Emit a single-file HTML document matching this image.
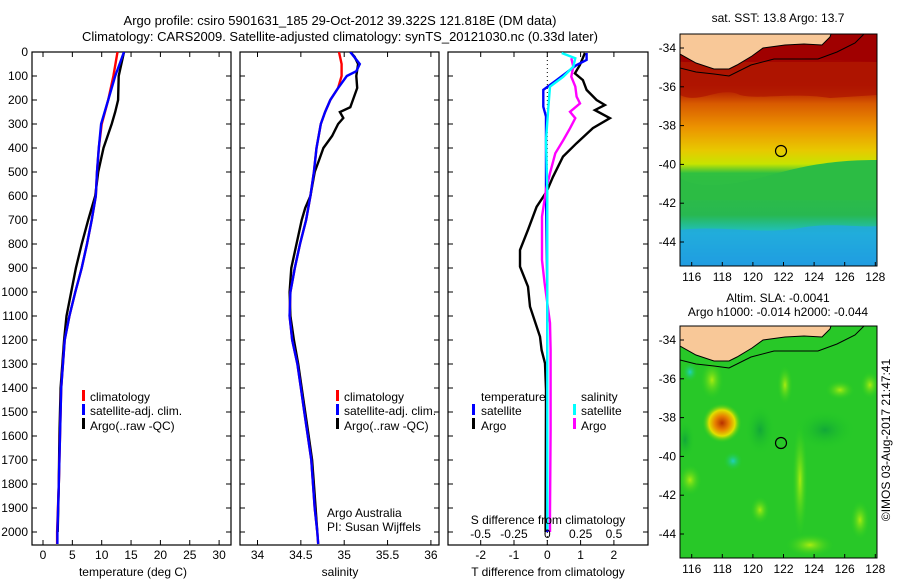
<!DOCTYPE html>
<html><head><meta charset="utf-8"><style>
html,body{margin:0;padding:0;background:#fff;}
svg{display:block;font-family:"Liberation Sans",Arial,sans-serif;}
text{font-size:12px;fill:#000;}
</style></head><body>
<svg id="fig" width="900" height="580" viewBox="0 0 900 580">
<defs>
<linearGradient id="sstGrad" x1="0" y1="0" x2="0" y2="1">
<stop offset="0" stop-color="#a00000"/><stop offset="0.22" stop-color="#a80800"/>
<stop offset="0.30" stop-color="#d85a00"/><stop offset="0.40" stop-color="#ec9200"/>
<stop offset="0.50" stop-color="#e8c800"/><stop offset="0.56" stop-color="#c8e400"/>
<stop offset="0.60" stop-color="#30c040"/><stop offset="0.78" stop-color="#28b850"/>
<stop offset="0.86" stop-color="#20c0c8"/><stop offset="1" stop-color="#1a70e8"/>
</linearGradient>
<radialGradient id="warmBlob"><stop offset="0" stop-color="#b83000"/><stop offset="0.35" stop-color="#e88000"/><stop offset="0.65" stop-color="#e0e000"/><stop offset="1" stop-color="#22cc22" stop-opacity="0"/></radialGradient>
<radialGradient id="cyanBlob"><stop offset="0" stop-color="#20d0c0"/><stop offset="1" stop-color="#22cc22" stop-opacity="0"/></radialGradient>
<radialGradient id="lightBlob"><stop offset="0" stop-color="#a8ec10"/><stop offset="1" stop-color="#22cc22" stop-opacity="0"/></radialGradient>
<radialGradient id="darkBlob"><stop offset="0" stop-color="#12a838"/><stop offset="1" stop-color="#22cc22" stop-opacity="0"/></radialGradient>
<clipPath id="clip1"><rect x="32" y="52" width="199" height="493"/></clipPath>
<clipPath id="clip2"><rect x="240" y="52" width="199" height="493"/></clipPath>
<clipPath id="clip3"><rect x="448" y="52" width="200" height="493"/></clipPath>
<clipPath id="clipTop"><rect x="680" y="34" width="197" height="232"/></clipPath>
<clipPath id="clipBot"><rect x="680" y="326" width="197" height="232"/></clipPath>
</defs>

<text x="340" y="25" text-anchor="middle" style="font-size:13px">Argo profile: csiro 5901631_185 29-Oct-2012 39.322S 121.818E (DM data)</text>
<text x="340" y="41" text-anchor="middle" style="font-size:13px">Climatology: CARS2009. Satellite-adjusted climatology: synTS_20121030.nc (0.33d later)</text>

<g id="p1"></g>
<g id="p2"></g>
<g id="p3"></g>

<g>
<rect x="82" y="390" width="3" height="11" fill="#f00"/><text x="90" y="401">climatology</text>
<rect x="82" y="404" width="3" height="11" fill="#00f"/><text x="90" y="415">satellite-adj. clim.</text>
<rect x="82" y="418" width="3" height="11" fill="#000"/><text x="90" y="430">Argo(..raw -QC)</text>
</g>
<g>
<rect x="336" y="390" width="3" height="11" fill="#f00"/><text x="344" y="401">climatology</text>
<rect x="336" y="404" width="3" height="11" fill="#00f"/><text x="344" y="415">satellite-adj. clim.</text>
<rect x="336" y="418" width="3" height="11" fill="#000"/><text x="344" y="430">Argo(..raw -QC)</text>
</g>
<text x="327" y="517">Argo Australia</text>
<text x="327" y="531">PI: Susan Wijffels</text>
<g>
<text x="481" y="401">temperature</text>
<rect x="472" y="404" width="3" height="11" fill="#00f"/><text x="481" y="415">satellite</text>
<rect x="472" y="418" width="3" height="11" fill="#000"/><text x="481" y="430">Argo</text>
<text x="581" y="401">salinity</text>
<rect x="573" y="404" width="3" height="11" fill="#0ff"/><text x="581" y="415">satellite</text>
<rect x="573" y="418" width="3" height="11" fill="#f0f"/><text x="581" y="430">Argo</text>
</g>

<text x="778" y="22" text-anchor="middle">sat. SST: 13.8 Argo: 13.7</text>
<g clip-path="url(#clipTop)">
<rect x="680" y="34" width="197" height="232" fill="url(#sstGrad)"/>
<path d="M680,60 L700,70 L730,72 L760,60 L800,58 L877,62 L877,34 L680,34Z" fill="#a00000"/>
<path d="M680,95 C700,105 720,85 740,95 C760,100 790,92 830,98 L877,95 L877,62 L680,62Z" fill="#b01800" opacity="0.8"/>
<path d="M680,178 C700,190 730,185 760,178 C790,170 820,160 877,160 L877,200 L680,200Z" fill="#2cbc44"/>
<path d="M680,230 C720,225 760,235 800,228 C830,222 860,228 877,226 L877,266 L680,266Z" fill="#22a8e0" opacity="0.8"/>
<g id="coastTop">
<path d="M680,34 L680,54 L696,63 L714,69 L729,69 L737,65 L752,56 L763,48 L785,45 L804,44 L822,45 L830,37 L831,34Z" fill="#f8c898" stroke="#000" stroke-width="1"/>
<polyline points="680,68 696,72 714,74 729,76 751,65 774,59 818,59 837,52 855,43 864,34" fill="none" stroke="#000" stroke-width="1"/>
</g>
<circle cx="781" cy="151" r="5.5" fill="none" stroke="#000" stroke-width="1.2"/>
</g>
<rect x="680" y="34" width="197" height="232" fill="none" stroke="#000"/>

<text x="778" y="302" text-anchor="middle">Altim. SLA: -0.0041</text>
<text x="778" y="316" text-anchor="middle">Argo h1000: -0.014 h2000: -0.044</text>
<g clip-path="url(#clipBot)">
<rect x="680" y="326" width="197" height="232" fill="#28c828"/>
<ellipse cx="712" cy="380" rx="12" ry="20" fill="url(#lightBlob)"/>
<ellipse cx="785" cy="385" rx="8" ry="20" fill="url(#lightBlob)"/>
<ellipse cx="840" cy="390" rx="15" ry="10" fill="url(#lightBlob)"/>
<ellipse cx="870" cy="385" rx="10" ry="14" fill="url(#lightBlob)"/>
<ellipse cx="800" cy="480" rx="8" ry="60" fill="url(#lightBlob)"/>
<ellipse cx="690" cy="480" rx="12" ry="16" fill="url(#lightBlob)"/>
<ellipse cx="760" cy="510" rx="10" ry="14" fill="url(#lightBlob)"/>
<ellipse cx="810" cy="545" rx="25" ry="12" fill="url(#lightBlob)"/>
<ellipse cx="860" cy="520" rx="10" ry="20" fill="url(#lightBlob)"/>
<ellipse cx="825" cy="430" rx="30" ry="20" fill="url(#darkBlob)"/>
<ellipse cx="760" cy="430" rx="15" ry="25" fill="url(#darkBlob)"/>
<ellipse cx="685" cy="440" rx="10" ry="20" fill="url(#darkBlob)"/>
<ellipse cx="690" cy="372" rx="8" ry="10" fill="url(#cyanBlob)"/>
<ellipse cx="733" cy="461" rx="10" ry="10" fill="url(#cyanBlob)"/>
<ellipse cx="722" cy="423" rx="20" ry="20" fill="url(#warmBlob)"/>
<use href="#coastTop" transform="translate(0,292)"/>
<circle cx="781" cy="443" r="5.5" fill="none" stroke="#000" stroke-width="1.2"/>
</g>
<rect x="680" y="326" width="197" height="232" fill="none" stroke="#000"/>
<g id="mapAxes"></g>
<text transform="translate(890,440) rotate(-90)" text-anchor="middle">©IMOS 03-Aug-2017 21:47:41</text>

<script>
const climDepth=[0,100,200,300,400,500,600,700,800,900,1000,1100,1200,1400,1600,1800,2000,2050];
const climT=[12.7,12.0,11.1,10.0,9.5,9.2,9.0,8.3,7.5,6.6,5.5,4.5,3.7,3.1,2.9,2.7,2.4,2.4];
const satT=[13.8,12.3,11.1,9.9,9.5,9.2,9.0,8.3,7.5,6.6,5.5,4.5,3.7,3.1,2.9,2.7,2.45,2.45];
const argoDepthT=[0,100,200,250,300,400,500,600,700,800,900,1000,1100,1200,1400,1600,1800,2000];
const argoT=[13.8,12.9,12.8,12.3,11.7,10.3,9.4,8.9,7.7,6.6,5.6,4.8,4.0,3.6,3.0,2.8,2.7,2.5];

const argoDepthS=[0,20,50,100,150,200,230,250,275,300,350,400,450,500,600,650,700,800,900,1000,1100,1200,1300,1400,1500,1600,1700,1800,1900,2000];
const argoS=[35.07,35.12,35.16,35.14,35.15,35.10,35.07,34.95,34.99,34.93,34.86,34.76,34.71,34.66,34.61,34.55,34.51,34.45,34.39,34.37,34.38,34.42,34.47,34.51,34.55,34.59,34.63,34.65,34.67,34.69];
const climDepthS=[0,50,100,150,200,250,300,400,500,600,700,800,900,1000,1100,1200,1300,1400,1500,1600,1700,1800,1900,2000,2050];
const climS=[34.94,34.97,34.97,34.93,34.84,34.78,34.73,34.68,34.65,34.61,34.56,34.49,34.43,34.38,34.37,34.40,34.46,34.50,34.54,34.58,34.62,34.64,34.66,34.69,34.70];
const satDepthS=[0,50,80,100,150,200,250,300,400,500,600,700,800,900,1000,1100,1200,1300,1400,1500,1600,1700,1800,1900,2000,2050];
const satS=[35.07,35.18,35.14,35.03,34.93,34.84,34.78,34.73,34.68,34.65,34.61,34.56,34.49,34.43,34.38,34.37,34.40,34.46,34.50,34.54,34.58,34.62,34.64,34.66,34.69,34.70];

const dTargoDepth=[4,54,89,117,158,200,221,242,276,317,380,436,520,582,645,741,825,894,978,1061,1186,1242,1297,1408,1936,2000];
const dTargo=[1.13,0.98,0.83,1.07,1.18,1.48,1.73,1.43,1.88,1.37,0.88,0.47,0.17,-0.02,-0.32,-0.58,-0.82,-0.82,-0.58,-0.52,-0.22,-0.17,-0.07,-0.04,-0.05,-0.05];
const dTsatDepth=[4,33,54,117,158,228,269,575,1000,1500,2000];
const dTsat=[1.18,1.18,0.88,0.28,-0.12,-0.12,-0.04,-0.04,0,0,0];
const dSsatDepth=[4,26,61,103,144,228,367,575,921,1186,1992];
const dSsat=[0.108,0.21,0.195,0.12,0.02,0.008,-0.01,0,0,0,0];
const dSargoDepth=[26,61,103,144,186,214,249,276,318,367,422,505,575,686,867,963,1129,1242,1575,1921,2000];
const dSargo=[0.18,0.195,0.18,0.21,0.22,0.245,0.17,0.21,0.17,0.12,0.06,0.02,-0.01,-0.04,-0.04,-0.02,0.02,0.025,0.025,0.02,0.02];

const depthTicks=[0,100,200,300,400,500,600,700,800,900,1000,1100,1200,1300,1400,1500,1600,1700,1800,1900,2000];
const tempTicks=[0,5,10,15,20,25,30];
const salTicks=[34,34.5,35,35.5,36];
const salTickLabels=["34","34.5","35","35.5","36"];
const dTTicks=[-2,-1,0,1,2];
const dSTicks=[-0.5,-0.25,0,0.25,0.5];
const dSTickLabels=["-0.5","-0.25","0","0.25","0.5"];
const latTicks=[-34,-36,-38,-40,-42,-44];
const lonTicks=[116,118,120,122,124,126,128];

const Y=d=>52+0.24*d;
const xT=t=>43+5.87*t;
const xS=s=>257.5+86.7*(s-34);
const xdT=v=>547.3+33.3*v;
const xdS=v=>547.3+133.3*v;
const lonX=l=>691.7+15.3*(l-116);
const latYTop=l=>48+19.4*(-34-l);
const latYBot=l=>340+19.4*(-34-l);

const NS='http://www.w3.org/2000/svg';
function mk(tag,parent){const e=document.createElementNS(NS,tag);parent.appendChild(e);return e;}
function line(parent,x1,y1,x2,y2,w){const l=mk('line',parent);l.setAttribute('x1',x1);l.setAttribute('y1',y1);l.setAttribute('x2',x2);l.setAttribute('y2',y2);l.setAttribute('stroke','#000');l.setAttribute('stroke-width',w||1);return l;}
function txt(parent,x,y,s,anchor){const t=mk('text',parent);t.setAttribute('x',x);t.setAttribute('y',y);t.setAttribute('text-anchor',anchor||'middle');t.textContent=s;return t;}
function series(parent,xs,ds,xf,color,name){
  const p=mk('polyline',parent);
  p.setAttribute('points',xs.map((v,i)=>xf(v).toFixed(1)+','+Y(ds[i]).toFixed(1)).join(' '));
  p.setAttribute('fill','none');p.setAttribute('stroke',color);p.setAttribute('stroke-width','2.4');
  
  
  return p;
}
function frame(g,x0,w,clipId){
  const r=mk('rect',g);r.setAttribute('x',x0);r.setAttribute('y',52);r.setAttribute('width',w);r.setAttribute('height',493);
  r.setAttribute('fill','none');r.setAttribute('stroke','#000');r.setAttribute('stroke-width','1.2');
  
  
  depthTicks.forEach(d=>{line(g,x0,Y(d),x0+5,Y(d));line(g,x0+w-5,Y(d),x0+w,Y(d));});
  const c=mk('g',g);c.setAttribute('clip-path','url(#'+clipId+')');return c;
}

const p1=document.getElementById('p1');
const c1=frame(p1,32,199,'clip1');
depthTicks.forEach(d=>{const t=txt(p1,28,Y(d)+4,String(d),'end');

});
tempTicks.forEach(v=>{line(p1,xT(v),52,xT(v),57);line(p1,xT(v),540,xT(v),545);
const t=txt(p1,xT(v),559,String(v));

});
const xl1=txt(p1,133,576,'temperature (deg C)');


series(c1,argoT,argoDepthT,xT,'#000','argo-temperature-line');
series(c1,climT,climDepth,xT,'#f00','climatology-temperature-line');
series(c1,satT,climDepth,xT,'#00f','satellite-temperature-line');

const p2=document.getElementById('p2');
const c2=frame(p2,240,199,'clip2');
salTicks.forEach((v,i)=>{line(p2,xS(v),52,xS(v),57);line(p2,xS(v),540,xS(v),545);
const t=txt(p2,xS(v),559,salTickLabels[i]);

});
const xl2=txt(p2,340,576,'salinity');


series(c2,argoS,argoDepthS,xS,'#000','argo-salinity-line');
series(c2,climS,climDepthS,xS,'#f00','climatology-salinity-line');
series(c2,satS,satDepthS,xS,'#00f','satellite-salinity-line');

const p3=document.getElementById('p3');
const c3=frame(p3,448,200,'clip3');
const zl=line(c3,xdT(0),52,xdT(0),545,1);zl.setAttribute('stroke-dasharray','1,3');


dTTicks.forEach(v=>{line(p3,xdT(v),52,xdT(v),57);line(p3,xdT(v),540,xdT(v),545);
const t=txt(p3,xdT(v),559,String(v));

});
dSTicks.forEach((v,i)=>{
const t=txt(p3,xdS(v),538,dSTickLabels[i]);

});
const xl3=txt(p3,548,524,'S difference from climatology');


const xl4=txt(p3,548,576,'T difference from climatology');


series(c3,dTargo,dTargoDepth,xdT,'#000','argo-t-difference-line');
series(c3,dTsat,dTsatDepth,xdT,'#00f','satellite-t-difference-line');
series(c3,dSargo,dSargoDepth,xdS,'#f0f','argo-s-difference-line');
series(c3,dSsat,dSsatDepth,xdS,'#0ff','satellite-s-difference-line');

const ma=document.getElementById('mapAxes');
[[latYTop,266],[latYBot,558]].forEach(([fy,bottom])=>{
  latTicks.forEach(l=>{line(ma,680,fy(l),684,fy(l));
  const t=txt(ma,676,fy(l)+4,String(l),'end');
  
  });
  lonTicks.forEach(l=>{line(ma,lonX(l),bottom-4,lonX(l),bottom);
  const t=txt(ma,lonX(l),bottom+15,String(l));
  
  });
});
</script>
</svg>
</body></html>
